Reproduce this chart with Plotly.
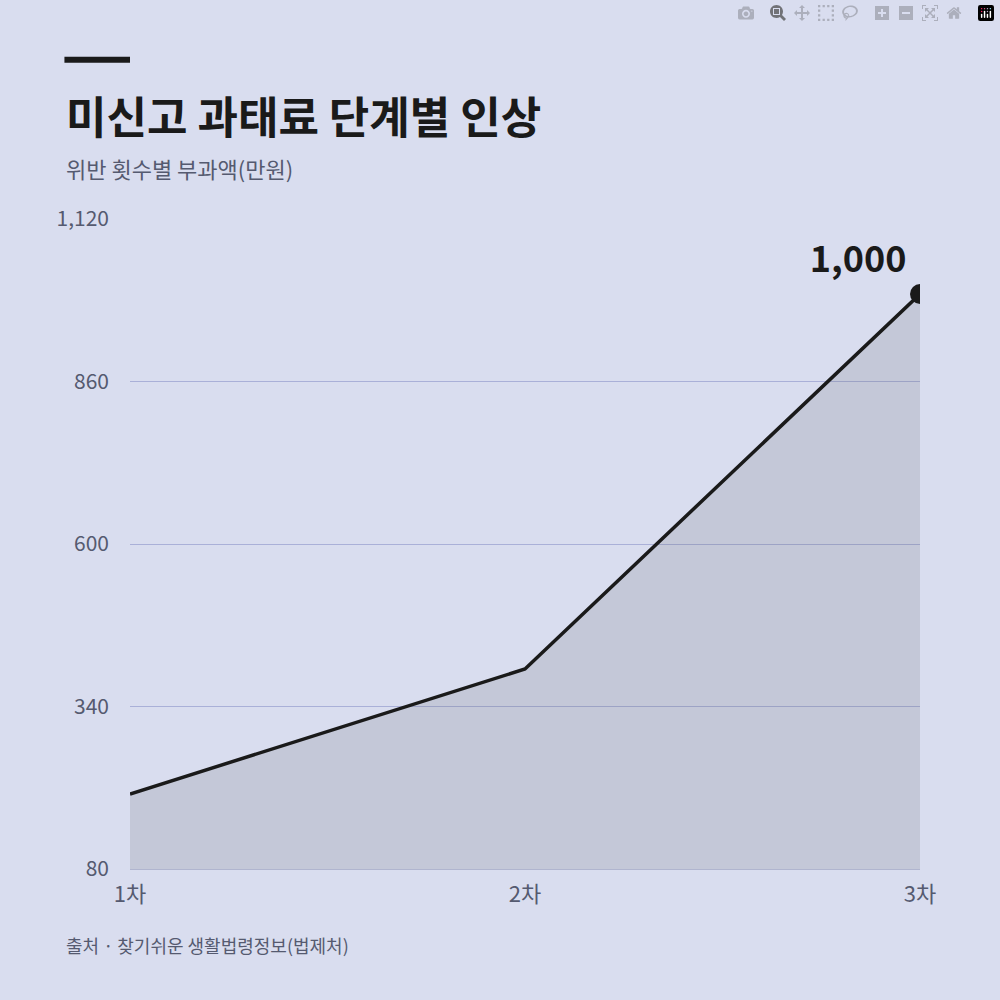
import plotly.graph_objects as go

categories = ["1차", "2차", "3차"]
values = [200, 400, 1000]
y_ticks = [80, 340, 600, 860, 1120]

FONT = "Noto Sans CJK KR"
BG = "#d9ddef"

fig = go.Figure()
fig.add_trace(go.Scatter(
    x=[0, 1, 2], y=values, mode="lines",
    line=dict(color="#1a1a1a", width=3.5),
    fill="tozeroy", fillcolor="rgba(100,105,110,0.18)", hoverinfo="skip"))
fig.add_trace(go.Scatter(
    x=[2], y=[values[-1]], mode="markers+text",
    marker=dict(color="#1a1a1a", size=20),
    text=[f"{values[-1]:,}"], textposition="top left",
    textfont=dict(family=FONT, size=36, color="#1a1a1a", weight="bold")))

fig.update_layout(
    width=1000, height=1000, showlegend=False,
    paper_bgcolor=BG, plot_bgcolor=BG,
    margin=dict(l=130, r=80, t=219, b=131),
    font=dict(family=FONT),
    xaxis=dict(range=[0, 2], tickvals=[0, 1, 2], ticktext=categories,
               showgrid=False, zeroline=False, showline=True,
               linecolor="#b0b5cf", linewidth=1,
               tickfont=dict(size=22, color="#555a70"), ticklabelstandoff=6),
    yaxis=dict(range=[80, 1120], tickvals=y_ticks, tickformat=",",
               showgrid=True, gridcolor="#aab0d8", gridwidth=1, zeroline=False,
               tickfont=dict(size=21, color="#555a70"), ticklabelstandoff=20),
    shapes=[dict(type="line", xref="paper", yref="paper",
                 x0=-0.083, x1=0.0, y0=1.245, y1=1.245,
                 line=dict(color="#1a1a1a", width=6))],
    annotations=[
        dict(text="<b>미신고 과태료 단계별 인상</b>", xref="paper", yref="paper",
             x=-0.083, y=1.16, xanchor="left", yanchor="middle", showarrow=False,
             font=dict(size=44, color="#1a1a1a", family=FONT)),
        dict(text="위반 횟수별 부과액(만원)", xref="paper", yref="paper",
             x=-0.083, y=1.078, xanchor="left", yanchor="middle", showarrow=False,
             font=dict(size=22, color="#555a70", family=FONT)),
        dict(text="출처 · 찾기쉬운 생활법령정보(법제처)", xref="paper", yref="paper",
             x=-0.083, y=-0.117, xanchor="left", yanchor="middle", showarrow=False,
             font=dict(size=18, color="#555a70", family=FONT)),
    ],
)
fig.write_html("out.html")

with open("out.html", encoding="utf-8") as f:
    html = f.read()
html = html.replace("<head>", "<head><style>html,body{margin:0;padding:0;}</style>", 1)
with open("out.html", "w", encoding="utf-8") as f:
    f.write(html)
